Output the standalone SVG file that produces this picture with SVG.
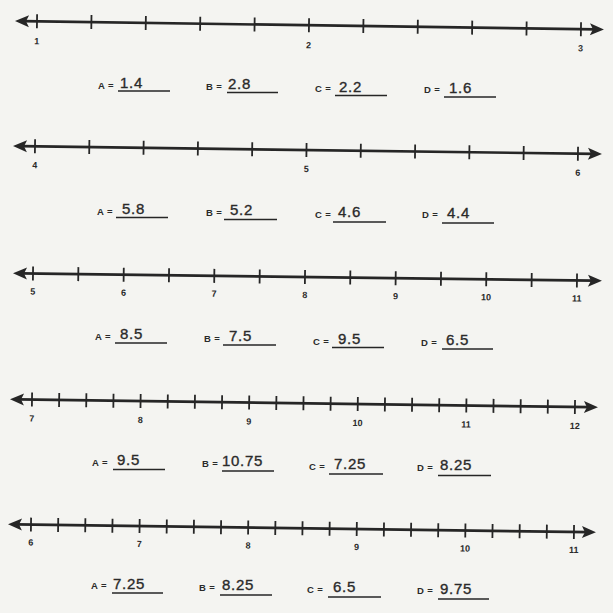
<svg xmlns="http://www.w3.org/2000/svg" width="613" height="613" viewBox="0 0 613 613">
<style>
.bg{fill:#f4f4f1}
.axis{stroke:#262626;stroke-width:2.7;fill:none}
.tick{stroke:#262626;stroke-width:1.8;fill:none}
.head{fill:#262626}
.num{font-family:"Liberation Sans",Arial,sans-serif;font-weight:bold;font-size:9px;fill:#2a2a2a;text-anchor:middle}
.lab{font-family:"Liberation Sans",Arial,sans-serif;font-weight:bold;font-size:9.5px;fill:#2a2a2a;letter-spacing:0.4px}
.val{font-family:"Liberation Sans",Arial,sans-serif;font-size:15px;fill:#2a2a2a;stroke:#2a2a2a;stroke-width:0.35;letter-spacing:0.7px}
.ul{stroke:#262626;stroke-width:1.6}
</style>
<rect class="bg" x="0" y="0" width="613" height="613"/>
<defs>
<polygon id="ahL" class="head" points="0,0 14,-6 11,0 14,6"/>
</defs>

<g id="line1" transform="translate(15,21) rotate(0.83)">
<path class="axis" d="M8 0 H581"/>
<use href="#ahL"/>
<use href="#ahL" transform="translate(589,0) scale(-1,1)"/>
<path class="tick" d="M22 -7v14M76.4 -7v14M130.8 -7v14M185.2 -7v14M239.6 -7v14M294 -7v14M348.4 -7v14M402.8 -7v14M457.2 -7v14M511.6 -7v14M566 -7v14"/>
<text class="num" x="22" y="23">1</text>
<text class="num" x="294" y="23">2</text>
<text class="num" x="566" y="22">3</text>
</g>
<g id="answers1">
<text class="lab" x="98" y="89">A =</text><text class="val" x="120" y="88">1.4</text><line class="ul" x1="118" y1="91" x2="170" y2="91"/>
<text class="lab" x="206" y="90">B =</text><text class="val" x="228" y="89">2.8</text><line class="ul" x1="227" y1="92.5" x2="278" y2="92.5"/>
<text class="lab" x="315" y="92">C =</text><text class="val" x="339" y="92">2.2</text><line class="ul" x1="335" y1="95.5" x2="387" y2="95.5"/>
<text class="lab" x="424" y="93">D =</text><text class="val" x="449" y="93">1.6</text><line class="ul" x1="444" y1="97" x2="496" y2="97"/>
</g>

<g id="line2" transform="translate(13,146) rotate(0.78)">
<path class="axis" d="M8 0 H581"/>
<use href="#ahL"/>
<use href="#ahL" transform="translate(589,0) scale(-1,1)"/>
<path class="tick" d="M22 -7v14M76.3 -7v14M130.6 -7v14M184.9 -7v14M239.2 -7v14M293.5 -7v14M347.8 -7v14M402.1 -7v14M456.4 -7v14M510.7 -7v14M565 -7v14"/>
<text class="num" x="22" y="22">4</text>
<text class="num" x="293.5" y="22">5</text>
<text class="num" x="565" y="22">6</text>
</g>
<g id="answers2">
<text class="lab" x="97" y="215">A =</text><text class="val" x="122" y="214">5.8</text><line class="ul" x1="116" y1="217.5" x2="168" y2="217.5"/>
<text class="lab" x="206" y="216">B =</text><text class="val" x="230" y="215">5.2</text><line class="ul" x1="224" y1="219.5" x2="277" y2="219.5"/>
<text class="lab" x="315" y="218">C =</text><text class="val" x="338" y="217">4.6</text><line class="ul" x1="333" y1="222" x2="386" y2="222"/>
<text class="lab" x="422" y="218">D =</text><text class="val" x="447" y="218">4.4</text><line class="ul" x1="442" y1="223" x2="494" y2="223"/>
</g>

<g id="line3" transform="translate(13,273.3) rotate(0.73)">
<path class="axis" d="M8 0 H581"/>
<use href="#ahL"/>
<use href="#ahL" transform="translate(589,0) scale(-1,1)"/>
<path class="tick" d="M20 -7v14M65.3 -7v14M110.7 -7v14M156 -7v14M201.3 -7v14M246.7 -7v14M292 -7v14M337.3 -7v14M382.7 -7v14M428 -7v14M473.3 -7v14M518.7 -7v14M564 -7v14"/>
<text class="num" x="20" y="21">5</text>
<text class="num" x="110.7" y="21">6</text>
<text class="num" x="201.3" y="21">7</text>
<text class="num" x="292" y="21">8</text>
<text class="num" x="382.7" y="21">9</text>
<text class="num" x="473.3" y="21">10</text>
<text class="num" x="564" y="21">11</text>
</g>
<g id="answers3">
<text class="lab" x="95" y="340">A =</text><text class="val" x="120" y="339">8.5</text><line class="ul" x1="115" y1="343" x2="167" y2="343"/>
<text class="lab" x="204" y="342">B =</text><text class="val" x="229" y="341">7.5</text><line class="ul" x1="223" y1="345" x2="276" y2="345"/>
<text class="lab" x="313" y="345">C =</text><text class="val" x="338" y="344">9.5</text><line class="ul" x1="332" y1="347.5" x2="384" y2="347.5"/>
<text class="lab" x="421" y="346">D =</text><text class="val" x="446" y="345">6.5</text><line class="ul" x1="442" y1="349" x2="493" y2="349"/>
</g>

<g id="line4" transform="translate(10,399.3) rotate(0.78)">
<path class="axis" d="M8 0 H580"/>
<use href="#ahL"/>
<use href="#ahL" transform="translate(588,0) scale(-1,1)"/>
<path class="tick" d="M22 -7v14M49.15 -7v14M76.3 -7v14M103.45 -7v14M130.6 -7v14M157.75 -7v14M184.9 -7v14M212.05 -7v14M239.2 -7v14M266.35 -7v14M293.5 -7v14M320.65 -7v14M347.8 -7v14M374.95 -7v14M402.1 -7v14M429.25 -7v14M456.4 -7v14M483.55 -7v14M510.7 -7v14M537.85 -7v14M565 -7v14"/>
<text class="num" x="22" y="22">7</text>
<text class="num" x="130.6" y="22">8</text>
<text class="num" x="239.2" y="22">9</text>
<text class="num" x="347.8" y="22">10</text>
<text class="num" x="456.4" y="22">11</text>
<text class="num" x="565" y="22">12</text>
</g>
<g id="answers4">
<text class="lab" x="92" y="466">A =</text><text class="val" x="117" y="465">9.5</text><line class="ul" x1="113" y1="469.5" x2="165" y2="469.5"/>
<text class="lab" x="202" y="467">B =</text><text class="val" x="222" y="466">10.75</text><line class="ul" x1="222" y1="471" x2="274" y2="471"/>
<text class="lab" x="309" y="470">C =</text><text class="val" x="334" y="469">7.25</text><line class="ul" x1="329" y1="474" x2="383" y2="474"/>
<text class="lab" x="417" y="471">D =</text><text class="val" x="440" y="470">8.25</text><line class="ul" x1="438" y1="475.5" x2="491" y2="475.5"/>
</g>

<g id="line5" transform="translate(8,524.3) rotate(0.78)">
<path class="axis" d="M8 0 H580"/>
<use href="#ahL"/>
<use href="#ahL" transform="translate(588,0) scale(-1,1)"/>
<path class="tick" d="M23 -7v14M50.15 -7v14M77.3 -7v14M104.45 -7v14M131.6 -7v14M158.75 -7v14M185.9 -7v14M213.05 -7v14M240.2 -7v14M267.35 -7v14M294.5 -7v14M321.65 -7v14M348.8 -7v14M375.95 -7v14M403.1 -7v14M430.25 -7v14M457.4 -7v14M484.55 -7v14M511.7 -7v14M538.85 -7v14M566 -7v14"/>
<text class="num" x="23" y="21">6</text>
<text class="num" x="131.6" y="21">7</text>
<text class="num" x="240.2" y="21">8</text>
<text class="num" x="348.8" y="21">9</text>
<text class="num" x="457.4" y="21">10</text>
<text class="num" x="566" y="21">11</text>
</g>
<g id="answers5">
<text class="lab" x="91" y="589">A =</text><text class="val" x="113" y="589">7.25</text><line class="ul" x1="112" y1="593" x2="163" y2="593"/>
<text class="lab" x="199" y="591">B =</text><text class="val" x="222" y="590">8.25</text><line class="ul" x1="220" y1="595" x2="272" y2="595"/>
<text class="lab" x="307" y="593">C =</text><text class="val" x="333" y="592">6.5</text><line class="ul" x1="328" y1="597" x2="381" y2="597"/>
<text class="lab" x="417" y="594">D =</text><text class="val" x="440" y="594">9.75</text><line class="ul" x1="438" y1="599" x2="489" y2="599"/>
</g>
</svg>
